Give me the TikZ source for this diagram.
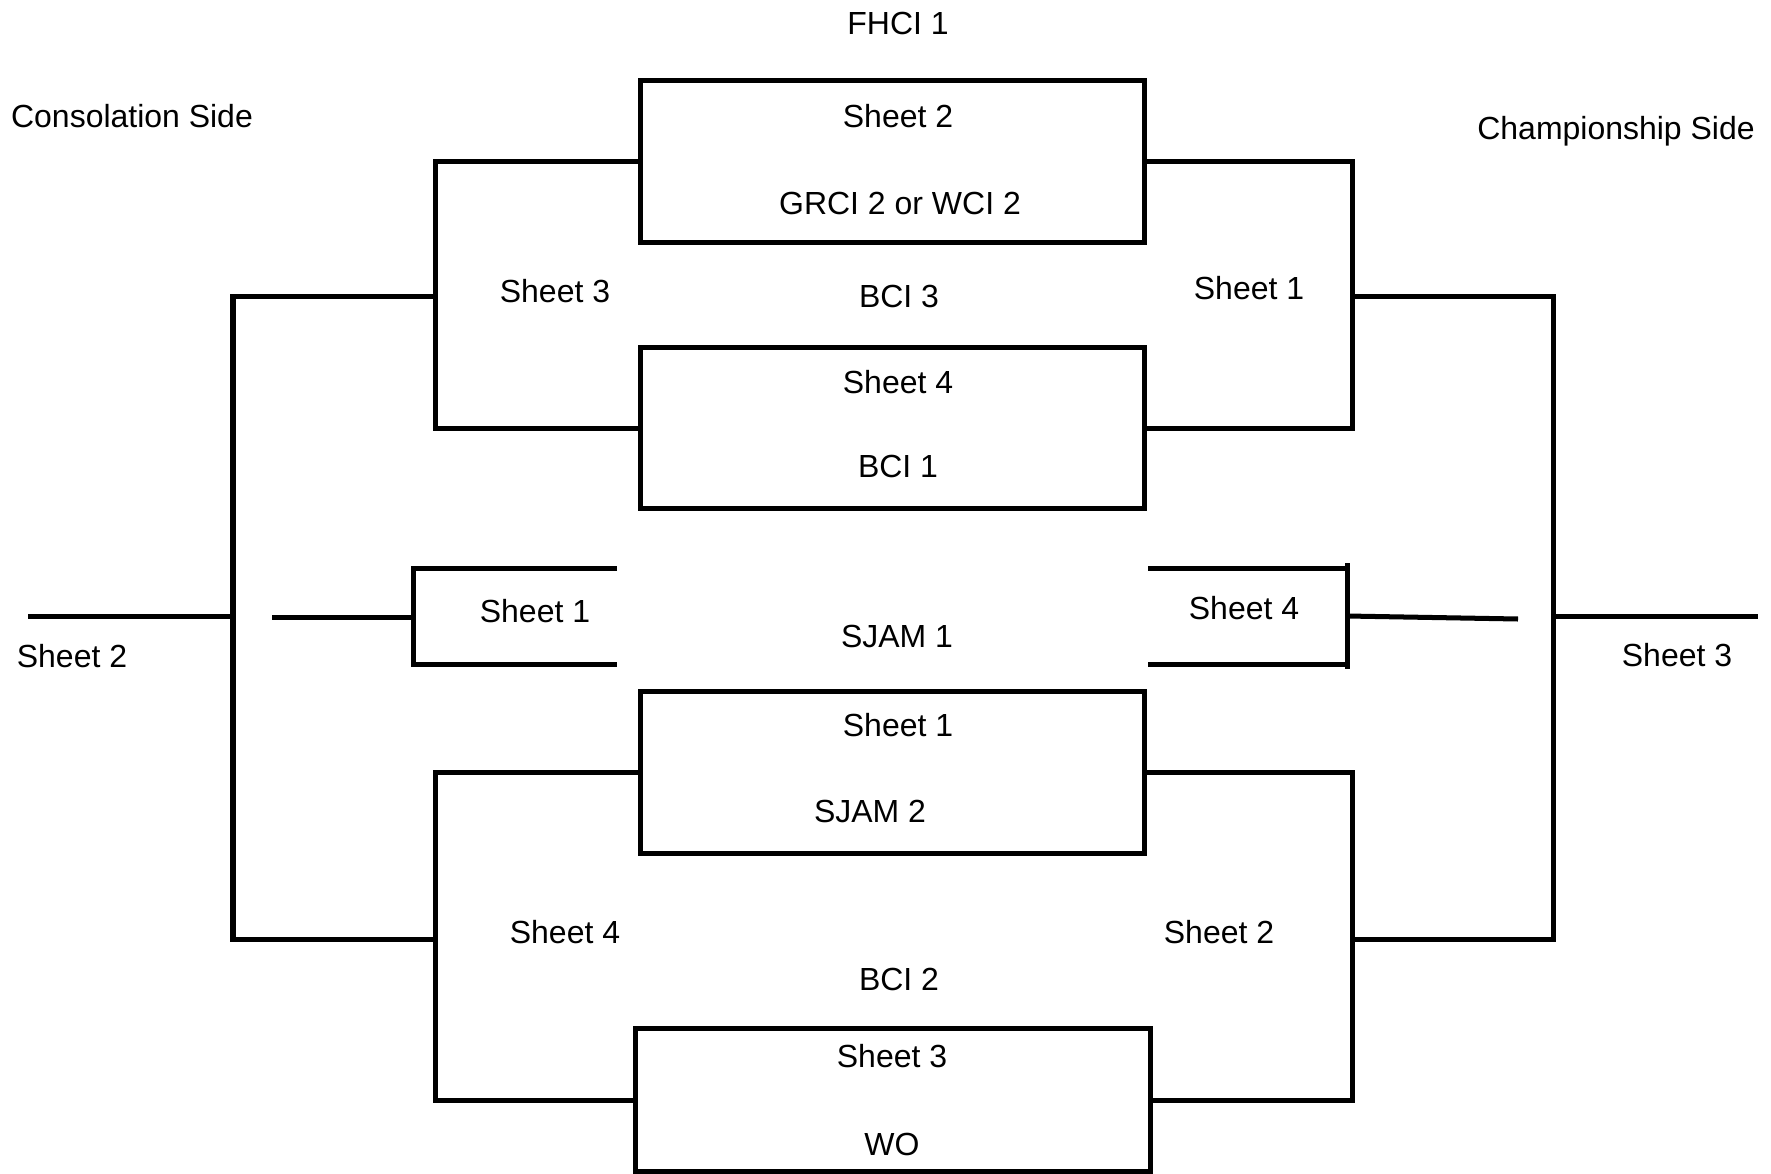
\documentclass[tikz,border=0pt]{standalone}
\usepackage{fontspec}
\setmainfont{Liberation Sans}
\usetikzlibrary{positioning}

\begin{document}
\begin{tikzpicture}[x=0.02cm,y=-0.02cm]
            \tikzstyle{every node}+=[inner sep=0pt]
            \tikzstyle{game}=[draw=black, line width=2.85pt, minimum width=10.1cm, minimum height=3.26cm]
            \tikzstyle{wire}=[draw=black, line width=2.85pt]
            \tikzstyle{lbl}=[font=\fontsize{18.2}{22}\selectfont, text depth=0pt]
            \useasboundingbox (0,0) rectangle (1771,1173);
            \node [game] (g1) at (892.5,161.5) {};
            \node [game, minimum height=3.24cm] (g2) at (892.5,428) {};
            \node [game] (g3) at (892.5,772.5) {};
            \node [game, minimum width=10.3cm, minimum height=2.86cm] (g4) at (893,1100) {};
            \coordinate (lt) at (435,296);
            \coordinate (lb) at (435,939);
            \coordinate (rt) at (1352,296);
            \coordinate (rb) at (1352,939);
            \coordinate (cl) at (233,616);
            \coordinate (cr) at (1553,616);
            \coordinate (lout) at (28,616);
            \coordinate (rout) at (1758,616);
            \draw [wire] (g1.west) -| (lt) |- (g2.west);
            \draw [wire] (g3.west) -| (lb) |- (g4.west);
            \draw [wire] (g1.east) -| (rt) |- (g2.east);
            \draw [wire] (g3.east) -| (rb) |- (g4.east);
            \draw [wire] (lt) -| (cl) |- (lb);
            \draw [wire] (rt) -| (cr) |- (rb);
            \draw [wire] (cl) -- (lout);
            \draw [wire] (cr) -- (rout);
            \coordinate (sa) at (617,568);
            \coordinate (sb) at (617,664);
            \coordinate (sj) at (413,617);
            \coordinate (sin) at (272,617);
            \draw [wire] (sa) -| (sj) |- (sb);
            \draw [wire] (sin) -- (sj);
            \coordinate (ta) at (1148,568);
            \coordinate (tb) at (1148,664);
            \coordinate (tj) at (1347,616);
            \coordinate (tv1) at (1347,563);
            \coordinate (tv2) at (1347,669);
            \coordinate (tout) at (1518,619);
            \draw [wire] (ta) -- (ta -| tj);
            \draw [wire] (tb) -- (tb -| tj);
            \draw [wire] (tv1) -- (tv2);
            \draw [wire] (tj) -- (tout);
            \node [lbl] (fhci) at (898,23) {FHCI 1};
            \node [lbl] (cons) at (132,116) {Consolation Side};
            \node [lbl] (champ) at (1616,128) {Championship Side};
            \node [lbl] (g1top) at (898,116) {Sheet 2};
            \node [lbl] (g1bot) at (900,203) {GRCI 2 or WCI 2};
            \node [lbl] (lts) at (555,291) {Sheet 3};
            \node [lbl] (bci3) at (899,296) {BCI 3};
            \node [lbl] (rts) at (1249,288) {Sheet 1};
            \node [lbl] (g2top) at (898,382) {Sheet 4};
            \node [lbl] (g2bot) at (898,466) {BCI 1};
            \node [lbl] (sjs) at (535,611) {Sheet 1};
            \node [lbl] (sjam1) at (897,636) {SJAM 1};
            \node [lbl] (tjs) at (1244,608) {Sheet 4};
            \node [lbl] (cls) at (72,656) {Sheet 2};
            \node [lbl] (crs) at (1677,655) {Sheet 3};
            \node [lbl] (g3top) at (898,725) {Sheet 1};
            \node [lbl] (g3bot) at (870,811) {SJAM 2};
            \node [lbl] (lbs) at (565,932) {Sheet 4};
            \node [lbl] (rbs) at (1219,932) {Sheet 2};
            \node [lbl] (bci2) at (899,979) {BCI 2};
            \node [lbl] (g4top) at (892,1056) {Sheet 3};
            \node [lbl] (g4bot) at (892,1144) {WO};
\end{tikzpicture}
\end{document}
